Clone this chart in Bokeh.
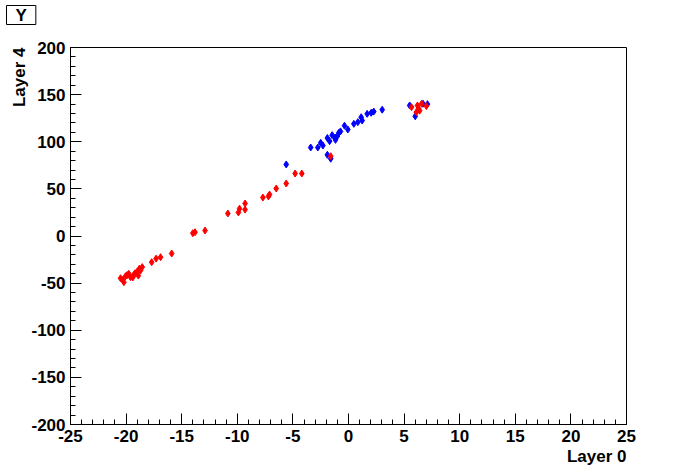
from bokeh.plotting import figure
from bokeh.models import FixedTicker, Range1d, Title
from bokeh.embed import file_html
from bokeh.resources import INLINE

# data (Layer 0 vs Layer 4)
red_x = [-15.9, -16.9, -17.3, -17.7, -18.55, -18.7, -19.0, -19.3, -19.76, -20.05, -20.5, -20.2,
         -19.6, -19.2, -18.9, -19.4, -20.3, -18.8, -19.9,
         -14.0, -13.8, -12.9, -10.85, -9.9, -9.8, -9.3, -9.3, -7.7, -7.2, -7.1, -6.5, -5.6,
         -4.8, -4.2, -1.6,
         5.67, 6.2, 6.3, 6.1, 6.57, 7.0, 6.4]
red_y = [-18.6, -22.5, -24.0, -27.8, -33.0, -36.6, -37.7, -41.2, -40.1, -42.6, -44.8, -49.0,
         -43.7, -39.5, -42.0, -44.0, -46.5, -34.5, -41.5,
         3.0, 4.0, 5.8, 23.9, 25.0, 29.0, 28.0, 34.5, 40.8, 42.0, 44.0, 50.4, 55.7,
         66.3, 66.3, 84.7,
         136.7, 138.5, 135.0, 131.4, 140.3, 137.8, 133.0]
blue_x = [-5.6, -3.4, -2.76, -2.5, -2.3, -1.9, -1.7, -1.47, -1.17, -1.2, -0.87, -0.72, -0.36,
          -0.06, 0.48, 0.84, 1.14, 1.23, 1.68, 2.04, 2.27, 3.03, -1.9, -1.6, 5.5, 6.0, 6.7,
          7.1, -1.0]
blue_y = [75.9, 93.9, 93.9, 98.9, 96.0, 104.0, 100.6, 107.0, 102.0, 104.5, 109.5, 111.0, 117.0,
          113.0, 119.0, 120.8, 126.0, 122.5, 129.6, 130.7, 132.0, 134.0, 86.1, 82.0, 138.5,
          127.0, 140.3, 139.9, 106.0]

x_major = list(range(-25, 26, 5))
x_minor = list(range(-25, 26, 1))
y_major = list(range(-200, 201, 50))
y_minor = list(range(-200, 201, 10))
x_tick_labels = {v: str(v) for v in x_major}
y_tick_labels = {v: str(v) for v in y_major}

FONT = "Liberation Sans"
FS = "17px"

p = figure(width=696, height=472, output_backend="svg", toolbar_location=None,
           x_range=Range1d(-25, 25), y_range=Range1d(-200, 200),
           min_border_left=70, min_border_right=70, min_border_top=47, min_border_bottom=48)
p.grid.visible = False
p.outline_line_color = "black"
p.outline_line_width = 1
p.background_fill_color = "white"
p.border_fill_color = "white"

p.xaxis.ticker = FixedTicker(ticks=x_major, minor_ticks=x_minor)
p.yaxis.ticker = FixedTicker(ticks=y_major, minor_ticks=y_minor)
p.xaxis.major_label_overrides = x_tick_labels
p.yaxis.major_label_overrides = y_tick_labels
for ax in (p.xaxis[0], p.yaxis[0]):
    ax.major_tick_in = 11
    ax.major_tick_out = 0
    ax.minor_tick_in = 5
    ax.minor_tick_out = 0
    ax.axis_line_color = "black"
    ax.major_tick_line_color = "black"
    ax.minor_tick_line_color = "black"
    ax.major_label_text_font = FONT
    ax.major_label_text_font_style = "bold"
    ax.major_label_text_font_size = FS
    ax.major_label_text_color = "black"
p.xaxis.major_label_standoff = 5
p.yaxis.major_label_standoff = 5

p.scatter(blue_x, blue_y, marker="diamond", size=7, color="blue")
p.scatter(red_x, red_y, marker="diamond", size=7, color="red")

title_kw = dict(text_font=FONT, text_font_style="bold", text_font_size=FS, text_color="black")
p.add_layout(Title(text="Layer 0", align="right", standoff=0, **title_kw), "below")
p.add_layout(Title(text="Layer 4", align="right", standoff=0, **title_kw), "left")
# blank band between the frame and the title box
p.add_layout(Title(text=" ", standoff=2, **title_kw), "above")
p.add_layout(Title(text="Y", align="left", vertical_align="bottom", offset=-64, standoff=0,
                   border_line_color="black", border_line_width=1,
                   background_fill_color="white",
                   padding=dict(top=0, right=9, bottom=0, left=9), **title_kw), "above")

open("out.html", "w").write(file_html(p, INLINE))
